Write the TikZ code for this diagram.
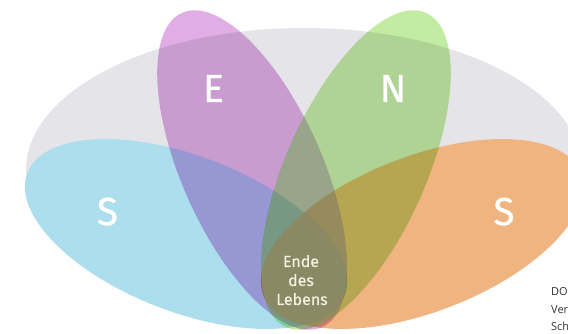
\documentclass[tikz,border=0pt]{standalone}
\usepackage{fontspec}
\setmainfont{Fira Sans}
\newfontfamily\letterfont[FakeBold=0.8]{Fira Sans}
\newfontfamily\endefont[FakeBold=0.5]{Fira Sans}
\newfontfamily\notefont{Open Sans}
\definecolor{greyc}{RGB}{229,229,233}
\definecolor{bluec}{RGB}{172,222,238}
\definecolor{pinkc}{RGB}{224,174,228}
\definecolor{greenc}{RGB}{194,236,162}
\definecolor{orangec}{RGB}{240,180,128}
\definecolor{bluelight}{RGB}{200,235,245}
\definecolor{orangelight}{RGB}{250,215,170}
\definecolor{pgfill}{RGB}{153,165,138}
\definecolor{endefill}{RGB}{138,137,100}
\definecolor{endec}{RGB}{245,240,228}
\definecolor{notec}{RGB}{50,50,50}
\tikzset{
  bigletter/.style={text=white, anchor=base, inner sep=0pt, font=\letterfont\fontsize{39}{39}\selectfont},
  endetext/.style={text=endec, anchor=base, inner sep=0pt, font=\endefont\fontsize{16}{16}\selectfont},
  notetext/.style={text=notec, anchor=base west, inner sep=0pt, font=\notefont\fontsize{11}{11}\selectfont},
  blueell/.style={rotate around={-21:(186,100)}},
  orangeell/.style={rotate around={21:(422,100)}},
  pinkell/.style={rotate around={24:(252,164)}},
  greenell/.style={rotate around={-24:(356,164)}}
}
\begin{document}
\begin{tikzpicture}[x=1pt,y=1pt]
\useasboundingbox (0,0) rectangle (568,334);
\clip (0,0) rectangle (568,334);
\fill[white] (0,0) rectangle (568,334);
% grey background ellipse
\fill[greyc] (304,164) ellipse [x radius=278, y radius=142];
% blue and orange sit on a white base
\fill[white, blueell] (186,100) ellipse [x radius=170, y radius=78];
\fill[white, orangeell] (422,100) ellipse [x radius=170, y radius=78];
\begin{scope}[blend mode=multiply]
  \fill[bluec, blueell] (186,100) ellipse [x radius=170, y radius=78];
  \fill[orangec, orangeell] (422,100) ellipse [x radius=170, y radius=78];
  \fill[pinkc, pinkell] (252,164) ellipse [x radius=70, y radius=172];
  \fill[greenc, greenell] (356,164) ellipse [x radius=70, y radius=172];
\end{scope}
% region shared by pink and green
\begin{scope}
  \clip[pinkell] (252,164) ellipse [x radius=70, y radius=172];
  \clip[greenell] (356,164) ellipse [x radius=70, y radius=172];
  \fill[pgfill] (200,0) rectangle (400,334);
  \begin{scope}[blend mode=multiply]
    \fill[bluelight, blueell] (186,100) ellipse [x radius=170, y radius=78];
    \fill[orangelight, orangeell] (422,100) ellipse [x radius=170, y radius=78];
  \end{scope}
\end{scope}
% region shared by all four
\begin{scope}
  \clip[blueell] (186,100) ellipse [x radius=170, y radius=78];
  \clip[orangeell] (422,100) ellipse [x radius=170, y radius=78];
  \clip[pinkell] (252,164) ellipse [x radius=70, y radius=172];
  \clip[greenell] (356,164) ellipse [x radius=70, y radius=172];
  \fill[endefill] (200,0) rectangle (400,200);
\end{scope}
\node[bigletter] (e) at (213.5,232) {E};
\node[bigletter] (n) at (393,232) {N};
\node[bigletter] (s1) at (107.5,109) {S};
\node[bigletter] (s2) at (504,109) {S};
\node[endetext] (ende1) at (301,67) {Ende};
\node[endetext] (ende2) at (301,48) {des};
\node[endetext] (ende3) at (302,29) {Lebens};
\node[notetext] (note1) at (551,38) {DO};
\node[notetext] (note2) at (551,20) {Ver};
\node[notetext] (note3) at (551,3) {Sch};
\end{tikzpicture}
\end{document}
